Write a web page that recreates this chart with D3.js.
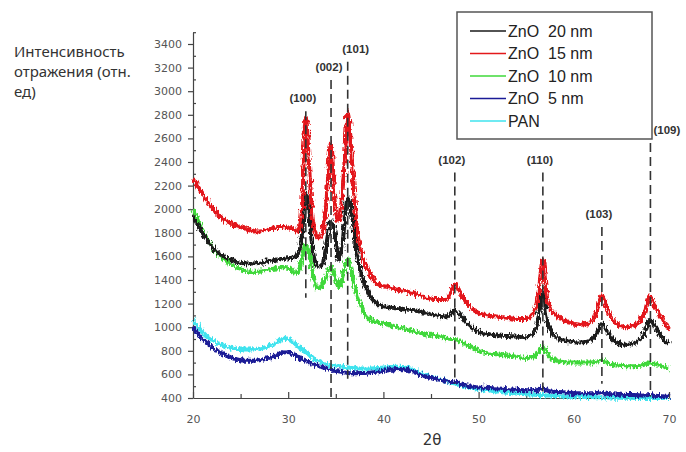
<!DOCTYPE html>
<html>
<head>
<meta charset="utf-8">
<script src="https://cdn.jsdelivr.net/npm/d3@7"></script>
<style>
  body { margin: 0; background: #fff; }
  svg { display: block; }
  .tick text { font-family: "DejaVu Sans", sans-serif; font-size: 11px; fill: #555; }
  .domain, .tick line { stroke: #444; stroke-width: 1.2; }
</style>
</head>
<body>
<svg id="xrd" width="686" height="452"></svg>
<script>
// 2theta grid shared by every pattern
var theta = [20, 21, 22, 23, 24, 25, 26, 27, 28, 29, 29.5, 30, 30.5, 31, 31.4, 31.85, 32.2, 32.6, 33.1, 33.6,
  34.0, 34.5, 34.9, 35.3, 35.7, 36.0, 36.25, 36.7, 37.2, 37.8, 38.5, 39.5, 40.5, 41.5, 42.5, 43.5, 44.5, 45.5,
  46.5, 47.1, 47.5, 48.1, 48.8, 50, 51, 52, 53, 54, 55, 55.8, 56.3, 56.75, 57.1, 57.6, 58.5, 59.5, 60.5, 61.5,
  62.3, 62.95, 63.5, 64.3, 65.5, 66.5, 67.3, 68.05, 68.5, 69.2, 70];

var zno20 = [1940, 1800, 1680, 1610, 1570, 1545, 1540, 1545, 1560, 1575, 1580, 1585, 1590, 1620, 1750, 2130, 1950, 1640, 1510, 1530,
  1700, 1900, 1800, 1570, 1700, 1950, 2100, 1950, 1620, 1420, 1280, 1190, 1170, 1160, 1150, 1140, 1120, 1100,
  1090, 1110, 1140, 1100, 1030, 960, 940, 930, 925, 920, 915, 950, 1080, 1300, 1100, 960, 900, 880, 870, 880,
  930, 1030, 960, 880, 850, 870, 930, 1060, 1010, 920, 860];

var zno15 = [2260, 2130, 2010, 1930, 1880, 1850, 1820, 1810, 1830, 1850, 1850, 1840, 1830, 1810, 1950, 2780, 2350, 1900, 1760, 1800,
  2050, 2560, 2050, 1900, 2150, 2500, 2820, 2400, 1850, 1600, 1460, 1360, 1340, 1320, 1300, 1280, 1250, 1240,
  1240, 1290, 1370, 1290, 1200, 1120, 1100, 1090, 1080, 1070, 1070, 1130, 1300, 1570, 1300, 1150, 1080, 1040, 1020, 1030,
  1110, 1270, 1160, 1040, 1000, 1020, 1100, 1260, 1180, 1080, 980];

var zno10 = [2000, 1820, 1680, 1590, 1530, 1490, 1470, 1470, 1490, 1500, 1510, 1500, 1470, 1460, 1560, 1700, 1620, 1450, 1330, 1360,
  1440, 1510, 1430, 1340, 1420, 1530, 1580, 1450, 1280, 1150, 1070, 1040, 1020, 1000, 980, 960, 940, 925,
  910, 900, 900, 880, 850, 800, 780, 770, 760, 750, 740, 750, 790, 840, 790, 740, 710, 700, 700, 700,
  705, 720, 700, 680, 670, 670, 680, 700, 690, 670, 650];

var zno5 = [1000, 900, 830, 780, 745, 720, 715, 720, 740, 770, 785, 790, 770, 750, 730, 715, 705, 690, 670, 660,
  650, 640, 630, 625, 620, 615, 612, 610, 610, 612, 615, 625, 635, 645, 640, 610, 580, 560,
  545, 535, 540, 520, 505, 490, 485, 480, 475, 470, 465, 465, 470, 485, 465, 455, 450, 445, 440, 440,
  440, 450, 435, 430, 425, 425, 420, 425, 420, 415, 410];

var pan = [1060, 960, 890, 850, 825, 810, 810, 820, 840, 880, 910, 900, 870, 840, 815, 790, 765, 740, 715, 700,
  690, 680, 675, 670, 665, 662, 660, 655, 650, 650, 650, 655, 660, 665, 655, 625, 590, 565,
  545, 530, 525, 510, 495, 475, 465, 455, 445, 438, 432, 428, 425, 425, 422, 420, 415, 412, 410, 408,
  406, 405, 404, 403, 402, 401, 401, 400, 400, 400, 400];

var seriesNames = ["ZnO  20 nm", "ZnO  15 nm", "ZnO  10 nm", "ZnO  5 nm", "PAN"];
var seriesColors = ["#1a1a1a", "#e3191b", "#3fd83a", "#1b1b96", "#3fe3ee"];

// reflections: Miller index, 2theta position, top and bottom of the marker line (intensity units)
var peakLabels = ["(100)", "(002)", "(101)", "(102)", "(110)", "(103)", "(109)"];
var peakPos = [31.85, 34.5, 36.25, 47.5, 56.75, 62.95, 68.05];
var peakTop = [2830, 3095, 3250, 2310, 2310, 1850, 2560];
var peakBottom = [1250, 400, 550, 520, 440, 520, 410];

var xTicks = [20, 30, 40, 50, 60, 70];
var yTicks = d3.range(400, 3401, 200);

var svg = d3.select("svg#xrd");

var x = d3.scaleLinear().domain([20, 70]).range([193, 669]);
var y = d3.scaleLinear().domain([400, 3500]).range([398, 32.2]);

// detector noise look: jitter the drawn stroke, the data stay as read
var defs = svg.append("defs");
var noise = defs.append("filter")
    .attr("id", "noisy")
    .attr("x", "-5%").attr("y", "-10%")
    .attr("width", "110%").attr("height", "120%");
noise.append("feTurbulence")
    .attr("type", "fractalNoise")
    .attr("baseFrequency", "0.6 0.2")
    .attr("numOctaves", 2)
    .attr("seed", 3)
    .attr("result", "turb");
noise.append("feDisplacementMap")
    .attr("in", "SourceGraphic")
    .attr("in2", "turb")
    .attr("scale", 7)
    .attr("xChannelSelector", "R")
    .attr("yChannelSelector", "G");

// axes
svg.append("g")
    .attr("transform", "translate(0,398)")
    .call(d3.axisBottom(x).tickValues(d3.range(25, 70, 10)).tickSize(-4).tickFormat(""))
    .call(g => g.select(".domain").remove());
svg.append("g")
    .attr("transform", "translate(0,398)")
    .call(d3.axisBottom(x).tickValues(xTicks).tickSize(-6).tickPadding(17).tickSizeOuter(0).tickFormat(d3.format("d")));

svg.append("g")
    .attr("transform", "translate(193,0)")
    .call(d3.axisRight(y).tickValues(d3.range(500, 3501, 200)).tickSize(3).tickFormat(""))
    .call(g => g.select(".domain").remove());
svg.append("g")
    .attr("transform", "translate(193,0)")
    .call(d3.axisLeft(y).tickValues(yTicks).tickSize(5).tickPadding(6).tickSizeOuter(0).tickFormat(d3.format("d")));

// patterns
var line = d3.line()
    .x(function(d, i) { return x(theta[i]); })
    .y(function(d) { return y(d); })
    .curve(d3.curveMonotoneX);

var patterns = [pan, zno5, zno10, zno20, zno15];
var patternColors = [seriesColors[4], seriesColors[3], seriesColors[2], seriesColors[0], seriesColors[1]];

svg.append("g")
    .attr("filter", "url(#noisy)")
  .selectAll("path")
  .data(patterns)
  .enter().append("path")
    .attr("d", line)
    .attr("fill", "none")
    .attr("stroke", function(d, i) { return patternColors[i]; })
    .attr("stroke-width", 4)
    .attr("stroke-linejoin", "round");

// reflection markers
var peaks = svg.append("g").selectAll("g")
  .data(peakLabels)
  .enter().append("g");

peaks.append("line")
    .attr("x1", function(d, i) { return x(peakPos[i]); })
    .attr("x2", function(d, i) { return x(peakPos[i]); })
    .attr("y1", function(d, i) { return y(peakTop[i]); })
    .attr("y2", function(d, i) { return y(peakBottom[i]); })
    .attr("stroke", "#333")
    .attr("stroke-width", 1.6)
    .attr("stroke-dasharray", "9,5");

peaks.append("text")
    .attr("x", function(d, i) {
      if (d == "(109)") return x(peakPos[i]) + 3;
      if (d == "(101)") return x(peakPos[i]) + 8;
      if (d == "(002)") return x(peakPos[i]) - 2;
      return x(peakPos[i]) - 3;
    })
    .attr("y", function(d, i) { return y(peakTop[i]) - 9; })
    .attr("text-anchor", function(d) { return d == "(109)" ? "start" : "middle"; })
    .style("font-family", "'Liberation Sans', Arial, sans-serif")
    .style("font-weight", "bold")
    .style("font-size", "11.5px")
    .style("fill", "#333")
    .text(function(d) { return d; });

// axis titles
svg.append("text")
    .attr("x", 432)
    .attr("y", 445)
    .attr("text-anchor", "middle")
    .style("font-family", "'DejaVu Sans', sans-serif")
    .style("font-size", "15px")
    .style("fill", "#333")
    .text("2θ");

svg.append("text")
    .style("font-family", "'Noto Sans', sans-serif")
    .style("font-size", "15px")
    .style("fill", "#333")
  .selectAll("tspan")
  .data(["Интенсивность", "отражения (отн.", "ед)"])
  .enter().append("tspan")
    .attr("x", 14)
    .attr("y", function(d, i) { return 57 + i * 20; })
    .text(function(d) { return d; });

// legend
var legend = svg.append("g");
legend.append("rect")
    .attr("x", 457).attr("y", 12)
    .attr("width", 195).attr("height", 127)
    .attr("fill", "#fff")
    .attr("stroke", "#555")
    .attr("stroke-width", 1.5);

var item = legend.selectAll("g.item")
  .data(seriesNames)
  .enter().append("g")
    .attr("class", "item")
    .attr("transform", function(d, i) { return "translate(470," + (31 + i * 22.5) + ")"; });

item.append("line")
    .attr("x1", 0).attr("x2", 36)
    .attr("stroke", function(d, i) { return seriesColors[i]; })
    .attr("stroke-width", 1.5);

item.append("text")
    .attr("x", 38)
    .attr("dy", "0.35em")
    .style("font-family", "'Liberation Sans', Arial, sans-serif")
    .style("font-size", "16px")
    .style("fill", "#222")
    .style("white-space", "pre")
    .text(function(d) { return d; });
</script>
</body>
</html>
